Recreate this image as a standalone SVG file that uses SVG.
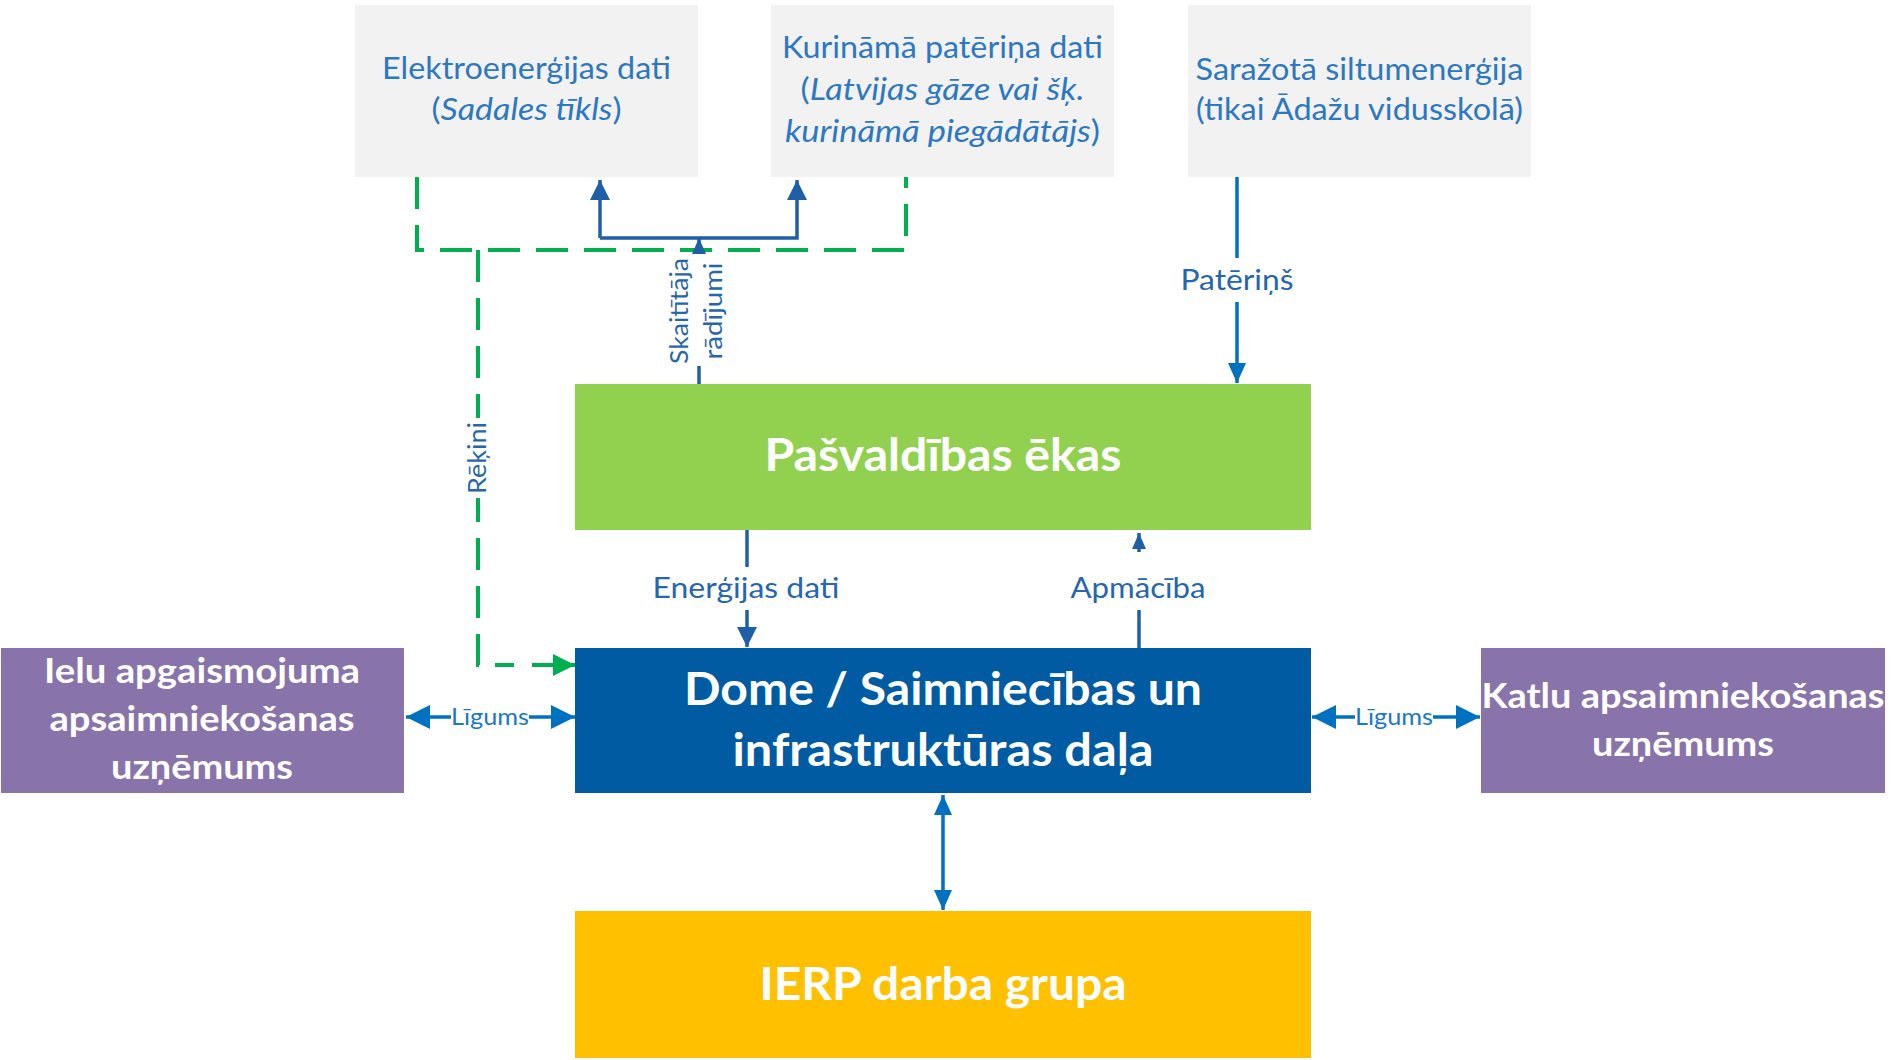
<svg xmlns="http://www.w3.org/2000/svg" width="1893" height="1060" viewBox="0 0 1893 1060">
<style>
.src{fill:#F2F2F2}
.srct{font-family:Lato,"Liberation Sans",sans-serif;font-size:30px;fill:#2E78C0;text-anchor:middle}
.it{font-style:italic}
.bt{font-family:Lato,"Liberation Sans",sans-serif;font-weight:bold;fill:#FFFFFF;text-anchor:middle}
.lbl{font-family:Lato,"Liberation Sans",sans-serif;font-size:29px;fill:#2566AC;text-anchor:middle}
.lbs{font-family:Lato,"Liberation Sans",sans-serif;font-size:25px;fill:#2566AC;text-anchor:middle}
.lbg{font-family:Lato,"Liberation Sans",sans-serif;font-size:24px;fill:#1A78C8;text-anchor:middle}
.cb{fill:none;stroke:#0070C0;stroke-width:3.5}
.cd{fill:none;stroke:#1F5FA6;stroke-width:3.5}
.cg{fill:none;stroke:#00B050;stroke-width:4;stroke-dasharray:32 16}
</style>
<defs>
<marker id="ah" viewBox="0 0 20 20" refX="20" refY="10" markerWidth="20" markerHeight="18" markerUnits="userSpaceOnUse" orient="auto-start-reverse" preserveAspectRatio="none"><path d="M0,0 L20,10 L0,20 z" fill="#0070C0"/></marker>
<marker id="ahl" viewBox="0 0 20 20" refX="20" refY="10" markerWidth="24" markerHeight="24" markerUnits="userSpaceOnUse" orient="auto-start-reverse" preserveAspectRatio="none"><path d="M0,0 L20,10 L0,20 z" fill="#0070C0"/></marker>
<marker id="ahd" viewBox="0 0 20 20" refX="20" refY="10" markerWidth="20" markerHeight="20" markerUnits="userSpaceOnUse" orient="auto" preserveAspectRatio="none"><path d="M0,0 L20,10 L0,20 z" fill="#1F5FA6"/></marker>
<marker id="ahs" viewBox="0 0 20 20" refX="20" refY="10" markerWidth="16" markerHeight="14" markerUnits="userSpaceOnUse" orient="auto" preserveAspectRatio="none"><path d="M0,0 L20,10 L0,20 z" fill="#1F5FA6"/></marker>
<marker id="ahg" viewBox="0 0 20 20" refX="20" refY="10" markerWidth="22" markerHeight="22" markerUnits="userSpaceOnUse" orient="auto" preserveAspectRatio="none"><path d="M0,0 L20,10 L0,20 z" fill="#00B050"/></marker>
</defs>

<g id="connectors">
  <!-- green dashed: bills -->
  <path class="cg" d="M417,177 V250 H906 V177"/>
  <path class="cg" d="M478,250 V665 H514"/>
  <path class="cg" d="M532,665 H575" style="stroke-dasharray:none" marker-end="url(#ahg)"/>
  <rect x="462" y="418" width="32" height="80" fill="#FFFFFF"/>
  <text class="lbs" transform="translate(478,458) rotate(-90)" y="8" textLength="72" lengthAdjust="spacingAndGlyphs">Rēķini</text>

  <!-- meter readings -->
  <path class="cd" d="M699,384 V366"/>
  <path class="cd" d="M699,254 V238" marker-end="url(#ahs)"/>
  <path class="cd" d="M600,238 H797 V180" marker-end="url(#ahd)"/>
  <path class="cd" d="M600,238 V180" marker-end="url(#ahd)"/>
  <text class="lbs" transform="translate(699,311) rotate(-90)"><tspan x="0" y="-11" textLength="106" lengthAdjust="spacingAndGlyphs">Skaitītāja</tspan><tspan x="0" y="23" textLength="97" lengthAdjust="spacingAndGlyphs">rādījumi</tspan></text>

  <!-- consumption -->
  <path class="cb" d="M1237,177 V258"/>
  <path class="cb" d="M1237,302 V383" marker-end="url(#ah)"/>
  <text class="lbl" x="1237" y="290" textLength="113" lengthAdjust="spacingAndGlyphs">Patēriņš</text>

  <!-- energy data -->
  <path class="cd" d="M747,530 V567"/>
  <path class="cd" d="M747,610 V647" marker-end="url(#ahd)"/>
  <text class="lbl" x="746" y="598" textLength="187" lengthAdjust="spacingAndGlyphs">Enerģijas dati</text>

  <!-- training -->
  <path class="cd" d="M1139,648 V610"/>
  <path class="cd" d="M1139,552 V533" marker-end="url(#ahs)"/>
  <text class="lbl" x="1138" y="598" textLength="135" lengthAdjust="spacingAndGlyphs">Apmācība</text>

  <!-- contracts -->
  <path class="cb" d="M451,717 H406" marker-end="url(#ahl)"/>
  <path class="cb" d="M529,717 H575" marker-end="url(#ahl)"/>
  <text class="lbg" x="490" y="725" textLength="78" lengthAdjust="spacingAndGlyphs">Līgums</text>
  <path class="cb" d="M1355,717 H1312" marker-end="url(#ahl)"/>
  <path class="cb" d="M1433,717 H1480" marker-end="url(#ahl)"/>
  <text class="lbg" x="1394" y="725" textLength="78" lengthAdjust="spacingAndGlyphs">Līgums</text>

  <!-- Dome <-> IERP -->
  <path class="cb" d="M943,795 V910" marker-start="url(#ah)" marker-end="url(#ah)"/>
</g>

<g id="node-elektro">
  <rect class="src" x="355" y="5" width="343" height="172"/>
  <text class="srct" x="526.5" y="79" textLength="289" lengthAdjust="spacingAndGlyphs">Elektroenerģijas dati</text>
  <text class="srct" x="526.5" y="120" textLength="190" lengthAdjust="spacingAndGlyphs">(<tspan class="it">Sadales tīkls</tspan>)</text>
</g>
<g id="node-kurinama">
  <rect class="src" x="771" y="5" width="343" height="172"/>
  <text class="srct" x="942.5" y="58" textLength="321" lengthAdjust="spacingAndGlyphs">Kurināmā patēriņa dati</text>
  <text class="srct" x="942.5" y="100" textLength="284" lengthAdjust="spacingAndGlyphs">(<tspan class="it">Latvijas gāze vai šķ.</tspan></text>
  <text class="srct" x="942.5" y="142" textLength="315" lengthAdjust="spacingAndGlyphs"><tspan class="it">kurināmā piegādātājs</tspan>)</text>
</g>
<g id="node-sarazota">
  <rect class="src" x="1188" y="5" width="343" height="172"/>
  <text class="srct" x="1359.5" y="80" textLength="328" lengthAdjust="spacingAndGlyphs">Saražotā siltumenerģija</text>
  <text class="srct" x="1359.5" y="120" textLength="327" lengthAdjust="spacingAndGlyphs">(tikai Ādažu vidusskolā)</text>
</g>
<g id="node-pasvaldibas">
  <rect x="575" y="384" width="736" height="146" fill="#92D050"/>
  <text class="bt" x="943" y="471" font-size="45" textLength="357" lengthAdjust="spacingAndGlyphs">Pašvaldības ēkas</text>
</g>
<g id="node-dome">
  <rect x="575" y="648" width="736" height="145" fill="#005BA2"/>
  <text class="bt" x="943" y="705" font-size="45" textLength="518" lengthAdjust="spacingAndGlyphs">Dome / Saimniecības un</text>
  <text class="bt" x="943" y="766" font-size="45" textLength="421" lengthAdjust="spacingAndGlyphs">infrastruktūras daļa</text>
</g>
<g id="node-ierp">
  <rect x="575" y="911" width="736" height="147" fill="#FFC000"/>
  <text class="bt" x="943" y="1000" font-size="45" textLength="367" lengthAdjust="spacingAndGlyphs">IERP darba grupa</text>
</g>
<g id="node-ielu">
  <rect x="1" y="648" width="403" height="145" fill="#8874AA"/>
  <text class="bt" x="202" y="683" font-size="34" textLength="316" lengthAdjust="spacingAndGlyphs">Ielu apgaismojuma</text>
  <text class="bt" x="202" y="731" font-size="34" textLength="305" lengthAdjust="spacingAndGlyphs">apsaimniekošanas</text>
  <text class="bt" x="202" y="779" font-size="34" textLength="182" lengthAdjust="spacingAndGlyphs">uzņēmums</text>
</g>
<g id="node-katlu">
  <rect x="1481" y="648" width="404" height="145" fill="#8874AA"/>
  <text class="bt" x="1683" y="708" font-size="34" textLength="403" lengthAdjust="spacingAndGlyphs">Katlu apsaimniekošanas</text>
  <text class="bt" x="1683" y="756" font-size="34" textLength="182" lengthAdjust="spacingAndGlyphs">uzņēmums</text>
</g>
</svg>
